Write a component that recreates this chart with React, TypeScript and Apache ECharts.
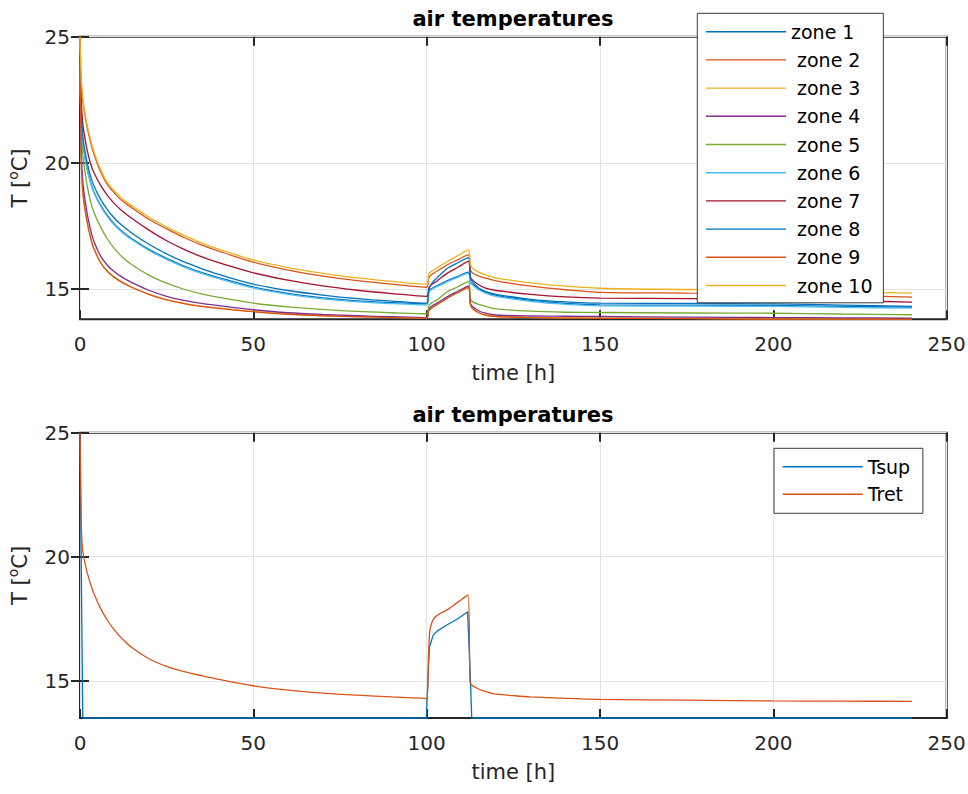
import React, { useEffect, useRef } from 'react';
import * as echarts from 'echarts';

// ---------- data ----------
const zoneNames = ['zone 1', 'zone 2', 'zone 3', 'zone 4', 'zone 5', 'zone 6', 'zone 7', 'zone 8', 'zone 9', 'zone 10'];
const zoneColors = ['#0072BD', '#D95319', '#EDB120', '#7E2F8E', '#77AC30', '#4DBEEE', '#A2142F', '#0072BD', '#D95319', '#EDB120'];

const zoneTimes = [0, 0.3, 0.6, 1, 2, 3, 4, 6, 8, 10, 12, 15, 20, 25, 30, 35, 40, 50, 60, 70, 80, 90, 100,
  100.6, 101.3, 103, 106, 109, 112, 112.6, 113.2, 115, 117, 120, 130, 140, 150, 175, 200, 220, 240];

const zone1 = [23.84, 21.89, 21.19, 20.64, 19.82, 19.26, 18.86, 18.31, 17.9, 17.57, 17.31, 17.0, 16.57, 16.22, 15.92, 15.67, 15.46, 15.09, 14.84, 14.66, 14.54, 14.47, 14.42,
  14.89, 15.02, 15.14, 15.34, 15.51, 15.68, 15.29, 15.21, 15.02, 14.89, 14.76, 14.56, 14.44, 14.38, 14.37, 14.36, 14.32, 14.29];
const zone2 = [24.9, 23.4, 22.75, 22.25, 21.45, 20.85, 20.35, 19.63, 19.12, 18.8, 18.52, 18.22, 17.76, 17.39, 17.05, 16.76, 16.51, 16.07, 15.76, 15.52, 15.34, 15.2, 15.08,
  15.45, 15.57, 15.72, 15.97, 16.17, 16.36, 15.8, 15.64, 15.52, 15.44, 15.33, 15.12, 14.98, 14.88, 14.85, 14.82, 14.76, 14.69];
const zone3 = [25, 20.5, 19.3, 18.6, 17.72, 17.08, 16.62, 16.05, 15.7, 15.47, 15.29, 15.08, 14.8, 14.59, 14.44, 14.33, 14.25, 14.12, 14.02, 13.96, 13.92, 13.89, 13.87,
  14.15, 14.25, 14.4, 14.66, 14.88, 15.08, 14.4, 14.25, 14.08, 13.98, 13.93, 13.89, 13.87, 13.86, 13.85, 13.83, 13.82, 13.81];
const zone4 = [24.5, 20.9, 19.7, 19.0, 18.05, 17.38, 16.9, 16.3, 15.93, 15.68, 15.49, 15.26, 14.95, 14.72, 14.56, 14.44, 14.35, 14.19, 14.07, 14.0, 13.95, 13.91, 13.88,
  14.2, 14.32, 14.45, 14.71, 14.92, 15.12, 14.45, 14.32, 14.15, 14.05, 13.98, 13.94, 13.93, 13.92, 13.9, 13.88, 13.87, 13.86];
const zone5 = [23.5, 21.6, 20.75, 20.1, 19.15, 18.5, 18.05, 17.45, 16.97, 16.6, 16.3, 15.97, 15.55, 15.24, 15.0, 14.82, 14.68, 14.45, 14.3, 14.2, 14.12, 14.07, 14.03,
  14.35, 14.45, 14.58, 14.91, 15.1, 15.3, 14.65, 14.51, 14.4, 14.32, 14.22, 14.13, 14.09, 14.08, 14.06, 14.05, 14.02, 13.99];
const zone6 = [23.8, 21.85, 21.15, 20.6, 19.78, 19.22, 18.82, 18.27, 17.86, 17.53, 17.27, 16.96, 16.53, 16.18, 15.88, 15.63, 15.42, 15.05, 14.8, 14.62, 14.5, 14.43, 14.38,
  14.85, 14.98, 15.1, 15.3, 15.47, 15.64, 15.25, 15.17, 14.98, 14.85, 14.72, 14.52, 14.4, 14.34, 14.33, 14.32, 14.28, 14.25];
const zone7 = [24.3, 22.6, 21.9, 21.35, 20.55, 20.0, 19.62, 19.1, 18.7, 18.38, 18.12, 17.8, 17.33, 16.92, 16.58, 16.29, 16.05, 15.65, 15.36, 15.13, 14.96, 14.83, 14.72,
  15.05, 15.17, 15.33, 15.64, 15.87, 16.1, 15.5, 15.37, 15.18, 15.04, 14.95, 14.8, 14.7, 14.65, 14.63, 14.61, 14.55, 14.49];
const zone8 = [24.0, 22.1, 21.4, 20.85, 20.05, 19.5, 19.1, 18.55, 18.13, 17.8, 17.54, 17.22, 16.77, 16.4, 16.08, 15.82, 15.59, 15.2, 14.95, 14.77, 14.63, 14.53, 14.45,
  14.95, 15.2, 15.45, 15.83, 16.05, 16.25, 15.45, 15.3, 15.05, 14.91, 14.8, 14.6, 14.5, 14.45, 14.44, 14.42, 14.37, 14.32];
const zone9 = [25, 20.45, 19.27, 18.58, 17.71, 17.07, 16.61, 16.04, 15.69, 15.46, 15.28, 15.07, 14.79, 14.58, 14.43, 14.32, 14.24, 14.11, 14.01, 13.95, 13.91, 13.88, 13.86,
  14.14, 14.24, 14.39, 14.65, 14.87, 15.07, 14.39, 14.24, 14.07, 13.97, 13.92, 13.88, 13.86, 13.85, 13.84, 13.82, 13.815, 13.81];
const zone10 = [25, 23.5, 22.85, 22.35, 21.55, 20.95, 20.45, 19.72, 19.2, 18.88, 18.6, 18.3, 17.84, 17.47, 17.13, 16.84, 16.59, 16.16, 15.86, 15.63, 15.45, 15.31, 15.2,
  15.6, 15.7, 15.85, 16.1, 16.33, 16.56, 16.0, 15.83, 15.68, 15.57, 15.45, 15.25, 15.12, 15.04, 14.99, 14.95, 14.9, 14.85];
const zoneValues = [zone1, zone2, zone3, zone4, zone5, zone6, zone7, zone8, zone9, zone10];

const tretTimes = [0, 0.15, 0.35, 0.6, 1, 1.5, 2, 3, 4, 6, 8, 10, 12, 15, 20, 25, 30, 35, 40, 50, 60, 70, 80, 90, 100,
  100.5, 100.9, 101.5, 102.5, 104, 106, 108, 110, 111.9, 112.5, 113, 114, 115.5, 118, 120, 125, 130, 140, 150, 175, 200, 220, 240];
const tretValues = [25, 23.5, 21.5, 20.5, 20.05, 19.7, 19.4, 18.92, 18.52, 17.9, 17.42, 17.03, 16.72, 16.33, 15.88, 15.58, 15.37, 15.21, 15.06, 14.8, 14.62, 14.5, 14.42, 14.35, 14.29,
  15.9, 17.0, 17.35, 17.58, 17.72, 17.87, 18.07, 18.27, 18.46, 14.95, 14.83, 14.74, 14.63, 14.52, 14.46, 14.4, 14.35, 14.29, 14.25, 14.22, 14.19, 14.18, 14.17];

const tsupTimes = [0, 0.4, 0.8, 99.9, 100, 100.8, 101.9, 103, 105.8, 109, 111.8, 112.5, 113, 240];
const tsupValues = [25, 19, 13.5, 13.5, 13.9, 16.37, 16.84, 17.0, 17.25, 17.5, 17.78, 15.5, 13.5, 13.5];

const xTicks = { min: 0, max: 250, interval: 50 };
const yTicks = [15, 20, 25];
const topRange = { min: 13.81, max: 25 };
const bottomRange = { min: 13.5, max: 25 };

const titleText = 'air temperatures';
const xName = 'time [h]';
const yName = 'T [{s|o}C]';

// ---------- styles ----------
const FONT = 'DejaVu Sans';
const AX = '#262626';
const GRIDC = '#e3e3e3';

function pairs(ts: number[], vs: number[]) {
  return ts.map((t, i) => [t, vs[i]]);
}

function xAxes(gridIndex: number) {
  return [
    {
      gridIndex, type: 'value', position: 'bottom', ...xTicks,
      axisLine: { show: false },
      axisTick: { inside: true, length: 9, lineStyle: { color: AX, width: 2 } },
      axisLabel: { margin: 15, fontSize: 20, fontFamily: FONT, color: AX },
      splitLine: { show: true, lineStyle: { color: GRIDC, width: 1 } },
      name: xName, nameLocation: 'middle', nameGap: 43,
      nameTextStyle: { fontSize: 21, fontFamily: FONT, color: AX },
    },
    {
      gridIndex, type: 'value', position: 'top', ...xTicks,
      axisLine: { show: false },
      axisTick: { inside: true, length: 9, lineStyle: { color: AX, width: 2 } },
      axisLabel: { show: false },
      splitLine: { show: false },
    },
  ];
}

function yAxes(gridIndex: number, range: { min: number; max: number }) {
  return [
    {
      gridIndex, type: 'value', position: 'left', ...range,
      axisLine: { show: false },
      axisTick: { inside: true, length: 9, customValues: yTicks, lineStyle: { color: AX, width: 2 } },
      axisLabel: { margin: 10, fontSize: 20, fontFamily: FONT, color: AX, customValues: yTicks },
      splitLine: { show: true, lineStyle: { color: GRIDC, width: 1 } },
      name: yName, nameLocation: 'middle', nameGap: 42,
      nameTextStyle: {
        fontSize: 21, fontFamily: FONT, color: AX, lineHeight: 28,
        rich: { s: { fontSize: 14, lineHeight: 14, verticalAlign: 'top', fontFamily: FONT, color: AX } },
      },
    },
    {
      gridIndex, type: 'value', position: 'right', ...range,
      axisLine: { show: false },
      axisTick: { inside: true, length: 9, customValues: yTicks, lineStyle: { color: AX, width: 2 } },
      axisLabel: { show: false, customValues: yTicks },
      splitLine: { show: false },
    },
  ];
}

const legendCommon = {
  orient: 'vertical',
  itemWidth: 80, itemHeight: 1.4, icon: 'rect',
  backgroundColor: '#fff', borderColor: '#3a3a3a', borderWidth: 1, borderRadius: 0,
  selectedMode: false,
};

const option: any = {
  animation: false,
  backgroundColor: '#fff',
  title: [
    { text: titleText, left: 513, top: 8, textAlign: 'center', padding: 0,
      textStyle: { fontSize: 21, fontWeight: 'bold', color: '#000', fontFamily: FONT } },
    { text: titleText, left: 513, top: 404, textAlign: 'center', padding: 0,
      textStyle: { fontSize: 21, fontWeight: 'bold', color: '#000', fontFamily: FONT } },
  ],
  grid: [
    { left: 80, top: 36.7, width: 866.7, height: 282.6, show: true, borderColor: AX, borderWidth: 2, backgroundColor: 'transparent', outerBoundsMode: 'none' },
    { left: 80, top: 432.7, width: 866.7, height: 285.3, show: true, borderColor: AX, borderWidth: 2, backgroundColor: 'transparent', outerBoundsMode: 'none' },
  ],
  xAxis: [...xAxes(0), ...xAxes(1)],
  yAxis: [...yAxes(0, topRange), ...yAxes(1, bottomRange)],
  legend: [
    {
      ...legendCommon,
      data: zoneNames, left: 697.3, top: 13.3,
      itemGap: 8.2,
      padding: [8.4, 10.8, 7.3, 8.7],
      formatter: (n: string) => (n === 'zone 1' ? n : '{g|}' + n),
      textStyle: { fontSize: 19, fontFamily: FONT, color: '#000', lineHeight: 20, rich: { g: { width: 6 } } },
    },
    {
      ...legendCommon,
      data: ['Tsup', 'Tret'], left: 774, top: 448.3,
      itemGap: 7.6,
      padding: [8.4, 12.7, 9, 8.7],
      textStyle: { fontSize: 19, fontFamily: FONT, color: '#000', lineHeight: 20 },
    },
  ],
  series: [
    ...zoneNames.map((name, i) => ({
      name, type: 'line', xAxisIndex: 0, yAxisIndex: 0,
      data: pairs(zoneTimes, zoneValues[i]),
      symbol: 'none', clip: false, smooth: 0.3,
      lineStyle: { color: zoneColors[i], width: 1.3 },
      itemStyle: { color: zoneColors[i] },
    })),
    {
      name: 'Tsup', type: 'line', xAxisIndex: 2, yAxisIndex: 2,
      data: pairs(tsupTimes, tsupValues), symbol: 'none', clip: false,
      lineStyle: { color: '#0072BD', width: 1.3 }, itemStyle: { color: '#0072BD' },
    },
    {
      name: 'Tret', type: 'line', xAxisIndex: 2, yAxisIndex: 2,
      data: pairs(tretTimes, tretValues), symbol: 'none', clip: false, smooth: 0.3,
      lineStyle: { color: '#D95319', width: 1.3 }, itemStyle: { color: '#D95319' },
    },
  ],
};

export default function App() {
  const ref = useRef<HTMLDivElement>(null);
  useEffect(() => {
    const chart = echarts.init(ref.current as HTMLDivElement, null, { renderer: 'svg' });
    chart.setOption(option);
    return () => chart.dispose();
  }, []);
  return (
    <div
      ref={ref}
      style={{ position: 'absolute', left: 0, top: 0, width: 968, height: 794, background: '#fff' }}
    />
  );
}
